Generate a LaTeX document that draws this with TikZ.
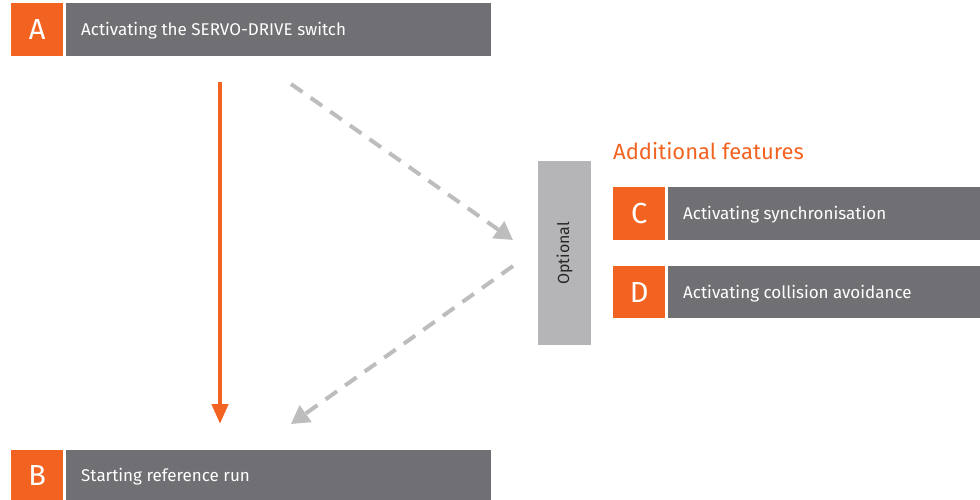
\documentclass[tikz,border=0pt]{standalone}
\usepackage{fontspec}
\setmainfont{Fira Sans}
\usetikzlibrary{arrows.meta}
\definecolor{orng}{HTML}{F26322}
\definecolor{bargray}{HTML}{707074}
\definecolor{optgray}{HTML}{B5B5B7}
\definecolor{dashgray}{HTML}{BDBDBD}
\tikzset{
  x=1pt, y=-1pt,
  letterbox/.style={fill=orng, text=white, minimum width=52pt, minimum height=53pt, inner sep=0pt, font=\fontsize{29}{29}\selectfont, anchor=north west, text depth=-3pt},
  bartext/.style={anchor=west, text=white, font=\fontsize{17}{17}\selectfont, inner sep=0pt},
  dasharrow/.style={draw=dashgray, line width=4pt, dash pattern=on 14pt off 10pt, -{Triangle[length=18pt,width=20pt]}}
}
\begin{document}
\begin{tikzpicture}
\useasboundingbox (0,0) rectangle (980,500);
% A
\node[letterbox] (A) at (11,3) {A};
\fill[bargray] (66,3) rectangle (491,56);
\node[bartext] (At) at (81,31) {Activating the SERVO-DRIVE switch};
% B
\node[letterbox, minimum height=50pt] (B) at (11,450) {B};
\fill[bargray] (66,450) rectangle (491,500);
\node[bartext] (Bt) at (81,477) {Starting reference run};
% C
\node[letterbox] (C) at (613,187) {C};
\fill[bargray] (668,187) rectangle (980,240);
\node[bartext] (Ct) at (683,215) {Activating synchronisation};
% D
\node[letterbox, minimum height=52pt] (D) at (613,266) {D};
\fill[bargray] (668,266) rectangle (980,318);
\node[bartext] (Dt) at (683,294) {Activating collision avoidance};
% Optional
\node[fill=optgray, minimum width=53pt, minimum height=184pt, inner sep=0pt, anchor=north west] (opt) at (538,161) {};
\node[rotate=90, font=\fontsize{16}{16}\selectfont, text=black!85] at (opt.center) {Optional};
% heading
\node[anchor=west, text=orng, font=\fontsize{22}{22}\selectfont, inner sep=0pt] (head) at (613,151) {Additional features};
% arrows
\coordinate (a1) at (220,82);
\coordinate (a2) at (220,424);
\draw[orng, line width=4.5pt, -{Triangle[length=20pt,width=16pt]}] (a1) -- (a2);
\coordinate (d1s) at (291,84);
\coordinate (d1e) at (513,240);
\draw[dasharrow] (d1s) -- (d1e);
\coordinate (d2s) at (513,266);
\coordinate (d2e) at (291,424);
\draw[dasharrow] (d2s) -- (d2e);
\end{tikzpicture}
\end{document}
